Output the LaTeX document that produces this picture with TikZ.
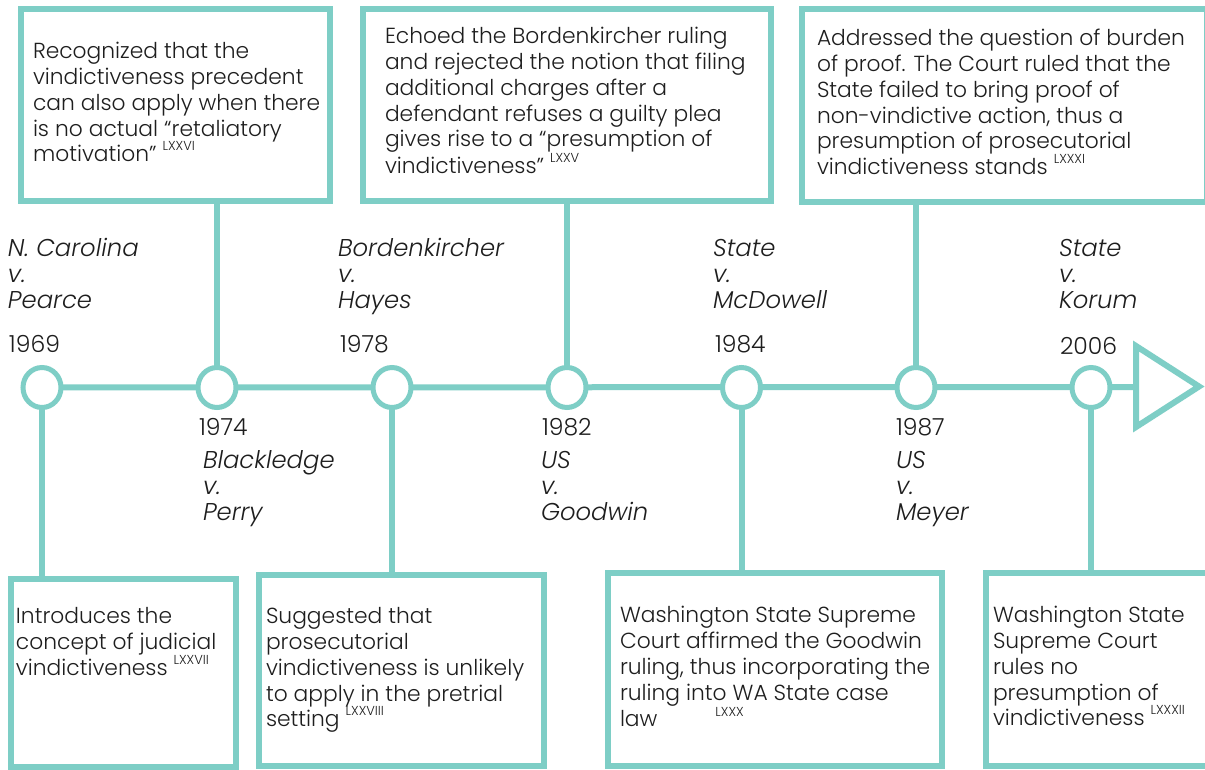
\documentclass[tikz,border=0pt]{standalone}
\usepackage{fontspec}
\setmainfont{Poppins}[UprightFont={* Light}, ItalicFont={* Light Italic}]
\usetikzlibrary{backgrounds,shapes.geometric}
\definecolor{tealline}{RGB}{126,206,198}
\definecolor{ink}{RGB}{30,30,30}
\newcommand\fnref[1]{\raisebox{0.5em}{\fontsize{13}{13}\selectfont #1}}
\begin{document}
\begin{tikzpicture}[x=1pt,y=-1pt,
  card/.style={draw=tealline, line width=6pt, fill=white, inner sep=0pt, outer sep=0pt, anchor=north west},
  txt/.style={anchor=north west, inner sep=0pt, outer sep=0pt, align=left, text=ink, font=\fontsize{21.8}{25.7}\selectfont},
  yr/.style={txt, font=\fontsize{23.5}{26}\selectfont},
  case/.style={txt, font=\fontsize{24.3}{26}\selectfont\itshape},
  dot/.style={ellipse, draw=tealline, line width=5pt, fill=white, minimum width=38pt, minimum height=40pt, inner sep=0pt},
  link/.style={draw=tealline, line width=6pt}
]
\useasboundingbox (0,0) rectangle (1205,770);

% event circles
\node[dot] (c1969) at (42,387.5) {};
\node[dot] (c1974) at (217,387.5) {};
\node[dot] (c1978) at (392,387.5) {};
\node[dot] (c1982) at (567,387.5) {};
\node[dot] (c1984) at (741.5,387.5) {};
\node[dot] (c1987) at (916,387.5) {};
\node[dot] (c2006) at (1091,387.5) {};
\coordinate (tri) at (1136,387);

% top boxes
\node[card, minimum width=309pt, minimum height=192pt] (boxA) at (21,9) {};
\node[card, minimum width=408pt, minimum height=192pt] (boxB) at (363,9) {};
\node[card, minimum width=405pt, minimum height=193pt] (boxC) at (802,9) {};
% bottom boxes
\node[card, minimum width=224.5pt, minimum height=188pt] (boxD) at (11,578.5) {};
\node[card, minimum width=285pt, minimum height=191pt] (boxE) at (259,575) {};
\node[card, minimum width=334pt, minimum height=193pt] (boxF) at (608,573) {};
\node[card, minimum width=224.5pt, minimum height=193pt] (boxG) at (985.5,573) {};

\begin{scope}[on background layer]
  \fill[white] (0,0) rectangle (1205,770);
  \draw[link] (c1969.center) -- (tri);
  \draw[link] (c1974.center) -- (c1974.center |- boxA.south);
  \draw[link] (c1982.center) -- (c1982.center |- boxB.south);
  \draw[link] (c1987.center) -- (c1987.center |- boxC.south);
  \draw[link] (c1969.center) -- (c1969.center |- boxD.north);
  \draw[link] (c1978.center) -- (c1978.center |- boxE.north);
  \draw[link] (c1984.center) -- (c1984.center |- boxF.north);
  \draw[link] (c2006.center) -- (c2006.center |- boxG.north);
\end{scope}

% arrow head
\draw[draw=tealline, line width=6pt, line join=miter] (1136,346) -- (1199,386.5) -- (1136,427) -- cycle;

% box texts
\node[txt] (tA) at (33,41) {\strut Recognized that the\\vindictiveness precedent\\can also apply when there\\is no actual “retaliatory\\motivation” \fnref{LXXVI}};
\node[txt] (tB) at (385,26) {\strut Echoed the Bordenkircher ruling\\and rejected the notion that filing\\additional charges after a\\defendant refuses a guilty plea\\gives rise to a “presumption of\\vindictiveness” \fnref{LXXV}};
\node[txt] (tC) at (817,28) {\strut Addressed the question of burden\\of proof. The Court ruled that the\\State failed to bring proof of\\non-vindictive action, thus a\\presumption of prosecutorial\\vindictiveness stands \fnref{LXXXI}};
\node[txt] (tD) at (16,606) {\strut Introduces the\\concept of judicial\\vindictiveness \fnref{LXXVII}};
\node[txt] (tE) at (266,606) {\strut Suggested that\\prosecutorial\\vindictiveness is unlikely\\to apply in the pretrial\\setting \fnref{LXXVIII}};
\node[txt] (tF) at (620,605) {\strut Washington State Supreme\\Court affirmed the Goodwin\\ruling, thus incorporating the\\ruling into WA State case\\law \hspace{52pt}\fnref{LXXX}};
\node[txt] (tG) at (993,605) {\strut Washington State\\Supreme Court\\rules no\\presumption of\\vindictiveness \fnref{LXXXII}};

% case names and years above the line
\node[case] (n1969) at (8,238) {\strut N. Carolina\\v.\\Pearce};
\node[yr] (y1969) at (9,334) {\strut 1969};
\node[case] (n1978) at (338,238) {\strut Bordenkircher\\v.\\Hayes};
\node[yr] (y1978) at (340,334) {\strut 1978};
\node[case] (n1984) at (713,238) {\strut State\\v.\\McDowell};
\node[yr] (y1984) at (715,334) {\strut 1984};
\node[case] (n2006) at (1059,238) {\strut State\\v.\\Korum};
\node[yr] (y2006) at (1060,336) {\strut 2006};
% below the line
\node[yr] (y1974) at (199,417) {\strut 1974};
\node[case] (n1974) at (203,450) {\strut Blackledge\\v.\\Perry};
\node[yr] (y1982) at (542,417) {\strut 1982};
\node[case] (n1982) at (541,450) {\strut US\\v.\\Goodwin};
\node[yr] (y1987) at (896,417) {\strut 1987};
\node[case] (n1987) at (896,450) {\strut US\\v.\\Meyer};
\end{tikzpicture}
\end{document}
